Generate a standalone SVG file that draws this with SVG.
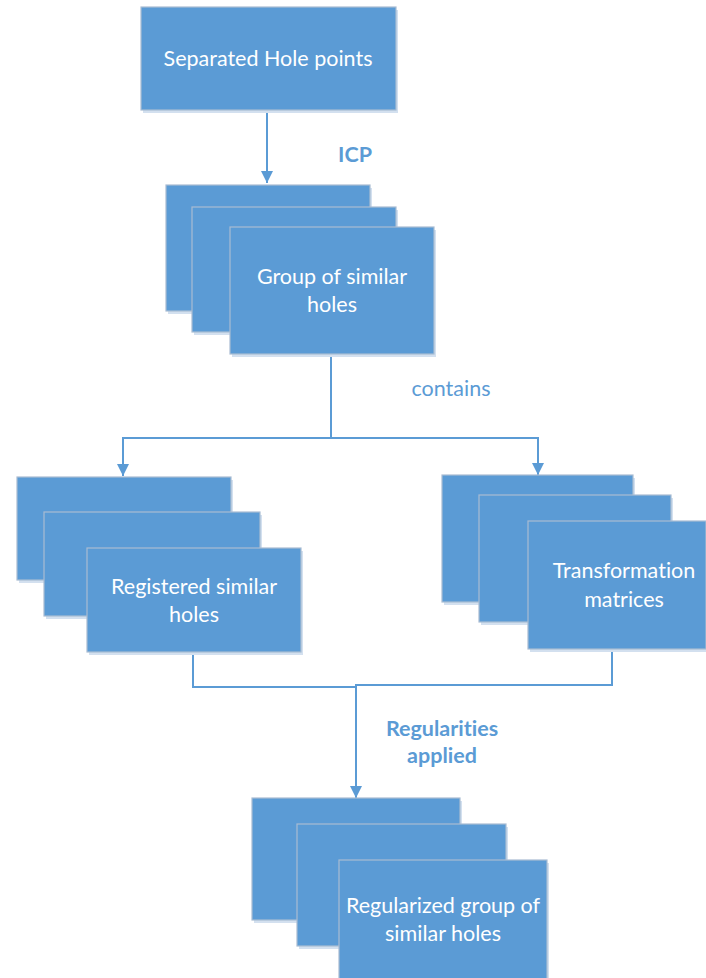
<svg xmlns="http://www.w3.org/2000/svg" width="706" height="978" viewBox="0 0 706 978">
<defs>
<style>
.b{fill:#5B9BD5;stroke:#A9BCD3;stroke-width:1.2}
.s{fill:#D3E0EF}
.t{font-family:Lato,"Open Sans",sans-serif;font-size:21.5px;fill:#FFFFFF;text-anchor:middle;font-variant-ligatures:none}
.l{font-family:Lato,"Open Sans",sans-serif;font-size:21.5px;fill:#5B9BD5;text-anchor:middle;font-variant-ligatures:none}
.lb{font-weight:bold}
.c{fill:none;stroke:#5B9BD5;stroke-width:2}
</style>
<marker id="ah" viewBox="0 0 10 10" refX="10" refY="5" markerWidth="6" markerHeight="6" markerUnits="strokeWidth" orient="auto">
<path d="M0,0 L10,5 L0,10 z" fill="#5B9BD5"/>
</marker>
</defs>
<rect width="706" height="978" fill="#FFFFFF"/>
<g id="connectors">
<path class="c" d="M267,110 V183" marker-end="url(#ah)"/>
<path class="c" d="M331,354 V438 H123 V476" marker-end="url(#ah)"/>
<path class="c" d="M331,438 H538 V475" marker-end="url(#ah)"/>
<path class="c" d="M193,652 V687 H356"/>
<path class="c" d="M612,649 V685 H356 V798" marker-end="url(#ah)"/>
</g>
<g id="n-separated">
<rect class="s" x="143" y="10" width="255" height="103"/>
<rect class="b" x="141" y="7" width="255" height="103"/>
<text class="t" x="268" y="66">Separated Hole points</text>
</g>
<g id="l-icp"><text class="l lb" x="355" y="162">ICP</text></g>
<g id="n-group">
<rect class="s" x="168" y="188" width="204" height="126"/>
<rect class="b" x="166" y="185" width="204" height="126"/>
<rect class="s" x="194" y="210" width="204" height="125"/>
<rect class="b" x="192" y="207" width="204" height="125"/>
<rect class="s" x="232" y="230" width="204" height="127"/>
<rect class="b" x="230" y="227" width="204" height="127"/>
<text class="t" x="332" y="284">Group of similar</text>
<text class="t" x="332" y="312">holes</text>
</g>
<g id="l-contains"><text class="l" x="451" y="396">contains</text></g>
<g id="n-registered">
<rect class="s" x="19" y="480" width="214" height="103"/>
<rect class="b" x="17" y="477" width="214" height="103"/>
<rect class="s" x="46" y="515" width="216" height="104"/>
<rect class="b" x="44" y="512" width="216" height="104"/>
<rect class="s" x="89" y="551" width="214" height="104"/>
<rect class="b" x="87" y="548" width="214" height="104"/>
<text class="t" x="194" y="594">Registered similar</text>
<text class="t" x="194" y="622">holes</text>
</g>
<g id="n-transformation">
<rect class="s" x="444" y="478" width="191" height="127"/>
<rect class="b" x="442" y="475" width="191" height="127"/>
<rect class="s" x="481" y="498" width="192" height="127"/>
<rect class="b" x="479" y="495" width="192" height="127"/>
<rect class="s" x="530" y="524" width="178" height="128"/>
<rect class="b" x="528" y="521" width="178" height="128"/>
<text class="t" x="624" y="578">Transformation</text>
<text class="t" x="624" y="607">matrices</text>
</g>
<g id="l-regularities">
<text class="l lb" x="442" y="736">Regularities</text>
<text class="l lb" x="442" y="763">applied</text>
</g>
<g id="n-regularized">
<rect class="s" x="254" y="801" width="208" height="122"/>
<rect class="b" x="252" y="798" width="208" height="122"/>
<rect class="s" x="299" y="827" width="209" height="122"/>
<rect class="b" x="297" y="824" width="209" height="122"/>
<rect class="s" x="341" y="863" width="208" height="120"/>
<rect class="b" x="339" y="860" width="208" height="120"/>
<text class="t" x="443" y="913">Regularized group of</text>
<text class="t" x="443" y="941">similar holes</text>
</g>
</svg>
